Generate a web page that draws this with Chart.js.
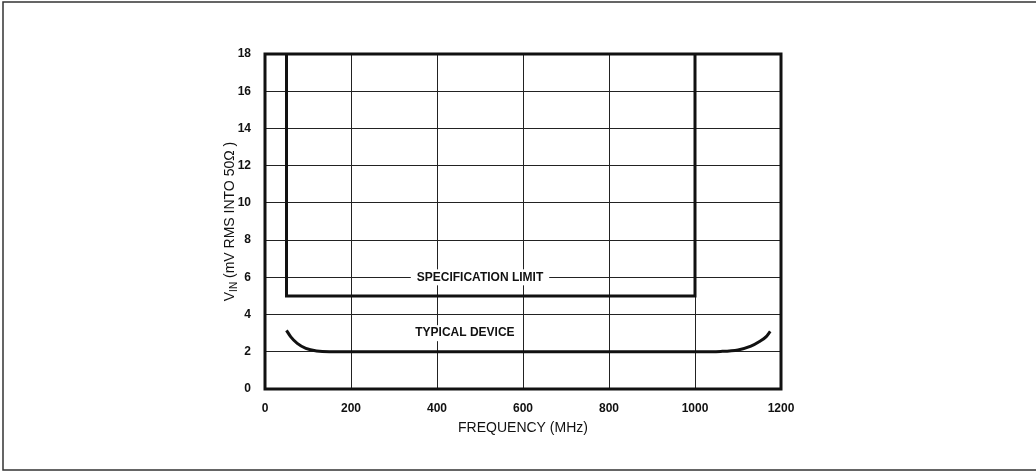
<!DOCTYPE html>
<html>
<head>
<meta charset="utf-8">
<script src="https://cdn.jsdelivr.net/npm/chart.js@4.4.0/dist/chart.umd.min.js"></script>
<style>
  html, body { margin: 0; padding: 0; background: #fff; }
  #wrap { width: 1036px; height: 472px; position: relative; }
</style>
</head>
<body>
<div id="wrap"><canvas id="chart" width="1036" height="472"></canvas></div>
<script>
const xTicks = [0, 200, 400, 600, 800, 1000, 1200];
const yTicks = [0, 2, 4, 6, 8, 10, 12, 14, 16, 18];

// specification limit outline
const specFreq = [50, 50, 1000, 1000];
const specVin = [18, 5, 5, 18];

// typical device curve
const typFreq = [50, 60, 75, 95, 120, 150, 200, 400, 600, 800, 1000, 1060, 1100, 1130, 1150, 1165, 1175];
const typVin = [3.15, 2.8, 2.45, 2.18, 2.04, 2.0, 2.0, 2.0, 2.0, 2.0, 2.0, 2.02, 2.1, 2.3, 2.55, 2.8, 3.1];

const curveLabels = [
  { text: "SPECIFICATION LIMIT", x: 500, y: 6 },
  { text: "TYPICAL DEVICE", x: 465, y: 3.0 },
];

const font = '"Liberation Sans", Arial, sans-serif';

const pts = (xs, ys) => xs.map((x, i) => ({ x: x, y: ys[i] }));

const decor = {
  id: "decor",
  afterDatasetsDraw(chart) {
    const ctx = chart.ctx;
    const a = chart.chartArea;
    const xs = chart.scales.x, ys = chart.scales.y;
    ctx.save();

    // curve labels with white backing
    ctx.font = "bold 12px " + font;
    ctx.textAlign = "center";
    ctx.textBaseline = "middle";
    curveLabels.forEach((l) => {
      const px = xs.getPixelForValue(l.x);
      const py = ys.getPixelForValue(l.y);
      const w = ctx.measureText(l.text).width;
      ctx.fillStyle = "#fff";
      ctx.fillRect(px - w / 2 - 6, py - 8, w + 12, 16);
      ctx.fillStyle = "#111";
      ctx.fillText(l.text, px, py);
    });

    // plot frame
    ctx.strokeStyle = "#111";
    ctx.lineWidth = 3;
    ctx.strokeRect(a.left, a.top, a.right - a.left, a.bottom - a.top);

    // page frame (left, top, bottom)
    ctx.lineWidth = 1.5;
    ctx.strokeStyle = "#333";
    ctx.beginPath();
    ctx.moveTo(1036, 2);
    ctx.lineTo(3, 2);
    ctx.lineTo(3, 470);
    ctx.lineTo(1036, 470);
    ctx.stroke();

    // y axis title with subscript
    ctx.translate(229, (a.top + a.bottom) / 2);
    ctx.rotate(-Math.PI / 2);
    ctx.fillStyle = "#111";
    ctx.textBaseline = "alphabetic";
    ctx.textAlign = "left";
    const big = "14px " + font, small = "10px " + font;
    const parts = [["V", big, 0], ["IN", small, 3], [" (mV RMS INTO 50\u03a9 )", big, 0]];
    let total = 0;
    parts.forEach((p) => { ctx.font = p[1]; total += ctx.measureText(p[0]).width; });
    let cx = -total / 2;
    parts.forEach((p) => {
      ctx.font = p[1];
      ctx.fillText(p[0], cx, 5 + p[2]);
      cx += ctx.measureText(p[0]).width;
    });
    ctx.restore();
  },
};

new Chart(document.getElementById("chart").getContext("2d"), {
  type: "line",
  data: {
    datasets: [
      {
        label: "Specification limit",
        data: pts(specFreq, specVin),
        borderColor: "#111",
        borderWidth: 3,
        pointRadius: 0,
        tension: 0,
        fill: false,
      },
      {
        label: "Typical device",
        data: pts(typFreq, typVin),
        borderColor: "#111",
        borderWidth: 3,
        pointRadius: 0,
        cubicInterpolationMode: "monotone",
        fill: false,
      },
    ],
  },
  options: {
    responsive: false,
    animation: false,
    devicePixelRatio: 1,
    layout: { padding: { top: 54, right: 255, left: 0, bottom: 31 } },
    plugins: { legend: { display: false }, tooltip: { enabled: false } },
    scales: {
      x: {
        type: "linear",
        min: 0,
        max: 1200,
        afterBuildTicks: (s) => { s.ticks = xTicks.map((v) => ({ value: v })); },
        afterFit: (s) => { s.height = 52; },
        grid: { color: "#222", lineWidth: 1, drawTicks: false },
        border: { display: false },
        ticks: {
          color: "#111",
          padding: 12,
          font: { family: font, size: 12, weight: "bold" },
          callback: (v) => String(v),
        },
        title: {
          display: true,
          text: "FREQUENCY (MHz)",
          color: "#111",
          padding: { top: 8 },
          font: { family: font, size: 14 },
        },
      },
      y: {
        min: 0,
        max: 18,
        afterBuildTicks: (s) => { s.ticks = yTicks.map((v) => ({ value: v })); },
        afterFit: (s) => { s.width = 265; },
        grid: { color: "#222", lineWidth: 1, drawTicks: false },
        border: { display: false },
        ticks: { color: "#111", padding: 14, font: { family: font, size: 12, weight: "bold" } },
      },
    },
  },
  plugins: [decor],
});
</script>
</body>
</html>
